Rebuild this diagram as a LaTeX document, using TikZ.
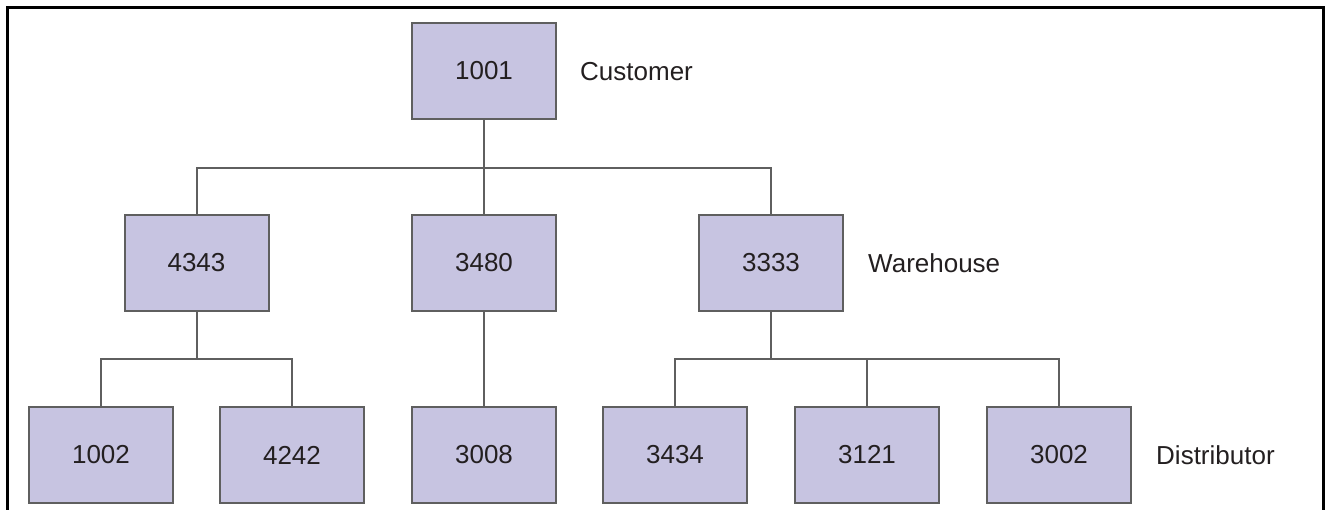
\documentclass[tikz,border=0pt]{standalone}
\usepackage{fontspec}
\setmainfont{Liberation Sans}
\definecolor{boxfill}{HTML}{C7C4E1}
\definecolor{boxline}{HTML}{5F5F5F}
\definecolor{txt}{HTML}{231F20}
\tikzset{
  idbox/.style={draw=boxline, line width=2pt, fill=boxfill, minimum width=144pt, minimum height=96pt, inner sep=0pt, text=txt, font=\fontsize{26}{31}\selectfont},
  levellabel/.style={anchor=west, inner sep=0pt, text=txt, font=\fontsize{26}{31}\selectfont},
  link/.style={draw=boxline, line width=2pt}
}
\begin{document}
\begin{tikzpicture}[x=1pt,y=-1pt]
\useasboundingbox (0,0) rectangle (1329,510);
\draw[black, line width=3pt] (7,510) -- (7,8) -- (1323,8) -- (1323,510);
% nodes
\node[idbox] (n1001) at (484,71) {1001};
\node[idbox] (n4343) at (196.5,263) {4343};
\node[idbox] (n3480) at (484,263) {3480};
\node[idbox] (n3333) at (771,263) {3333};
\node[idbox] (n1002) at (101,455) {1002};
\node[idbox] (n4242) at (292,455) {4242};
\node[idbox] (n3008) at (484,455) {3008};
\node[idbox] (n3434) at (675,455) {3434};
\node[idbox] (n3121) at (867,455) {3121};
\node[idbox] (n3002) at (1059,455) {3002};
% labels
\node[levellabel] (lcust) at (580,72) {Customer};
\node[levellabel] (lware) at (868,263) {Warehouse};
\node[levellabel] (ldist) at (1156,455) {Distributor};
% junctions
\coordinate (j1) at (484,168);
\coordinate (j2) at (196.5,359);
\coordinate (j3) at (771,359);
% connectors
\draw[link] (n1001.south) -- (n3480.north);
\draw[link] (n4343.north) |- (j1) -| (n3333.north);
\draw[link] (n4343.south) -- (j2);
\draw[link] (n1002.north) |- (j2) -| (n4242.north);
\draw[link] (n3480.south) -- (n3008.north);
\draw[link] (n3333.south) -- (j3);
\draw[link] (n3434.north) |- (j3) -| (n3002.north);
\draw[link] (n3121.north) -- (n3121.north |- j3);
\end{tikzpicture}
\end{document}
